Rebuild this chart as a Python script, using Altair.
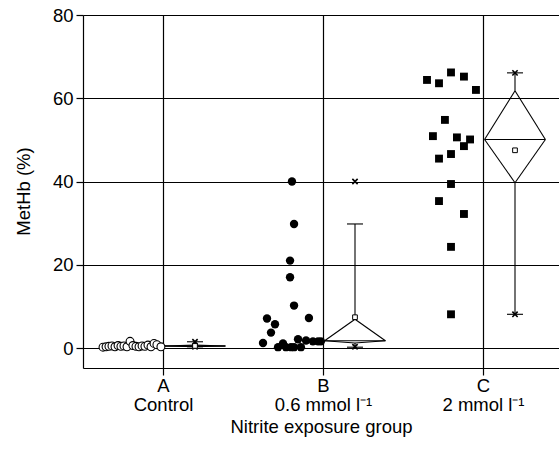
import altair as alt
import pandas as pd

# ---------------- data ----------------
groups = [1, 2, 3]
group_letters = ["A", "B", "C"]
group_names = ["Control", "0.6 mmol l⁻¹", "2 mmol l⁻¹"]

# individual fish (jitter is the horizontal spread in category units)
a_values = [0.2, 0.3, 0.4, 0.5, 0.3, 0.6, 0.4, 0.5, 0.3, 1.6, 0.6, 0.4, 0.3, 0.5, 0.4, 0.7, 0.3, 1.1, 0.8, 0.3]
a_jitter = [-0.375, -0.356, -0.338, -0.319, -0.300, -0.281, -0.263, -0.244, -0.225, -0.206,
            -0.188, -0.169, -0.150, -0.131, -0.113, -0.094, -0.075, -0.056, -0.038, -0.013]

b_values = [40.0, 29.8, 21.0, 17.0, 10.2, 7.1, 7.2, 5.7, 3.7, 1.2, 2.1, 1.8, 1.6, 1.6, 1.6,
            0.2, 1.1, 0.2, 0.2, 0.2, 0.2]
b_jitter = [-0.194, -0.181, -0.206, -0.206, -0.181, -0.350, -0.088, -0.300, -0.325, -0.375,
            -0.156, -0.106, -0.063, -0.031, -0.013, -0.281, -0.250, -0.231, -0.200, -0.181, -0.138]

c_values = [64.4, 63.6, 66.2, 65.2, 62.0, 54.8, 50.9, 50.6, 50.1, 48.5, 46.6, 45.5, 39.4, 35.3, 32.2, 24.3, 8.1]
c_jitter = [-0.350, -0.275, -0.200, -0.119, -0.044, -0.238, -0.313, -0.163, -0.081, -0.119,
            -0.200, -0.275, -0.200, -0.275, -0.119, -0.200, -0.200]

q1 = [0.3, 1.2, 39.7]
median = [0.5, 1.75, 50.1]
q3 = [0.7, 6.9, 61.8]
mean = [0.5, 7.4, 47.5]
whisk_lo = [0.3, 0.2, 8.1]
whisk_hi = [1.5, 29.8, 66.1]
minimum = [0.3, 0.3, 8.1]
maximum = [1.5, 40.0, 66.1]

# ---------------- geometry constants (category units) ----------------
DL, DC, DR = 0.01, 0.20, 0.39   # diamond left / centre / right offsets
CAP = 0.05

FONT = "Liberation Sans"
FS = 18.5

label_expr = " : ".join(
    f"datum.value == {g} ? ['{l}', '{n}']" for g, l, n in zip(groups[:-1], group_letters[:-1], group_names[:-1])
) + f" : ['{group_letters[-1]}', '{group_names[-1]}']"

xscale = alt.Scale(domain=[0.5, 3.475], nice=False, zero=False)
yscale = alt.Scale(domain=[-4.8, 80], nice=False, zero=False)

xaxis = alt.Axis(values=groups, grid=True, gridColor="black", gridWidth=1.2, gridOpacity=1,
                 tickSize=7, tickColor="black", tickWidth=1.2, domainColor="black", domainWidth=1.2,
                 labelExpr=label_expr, labelFontSize=FS, labelLineHeight=19, labelPadding=1,
                 labelColor="black", title="Nitrite exposure group", titleFontSize=FS,
                 titleFontWeight="normal", titleColor="black", titlePadding=4)
yaxis = alt.Axis(values=[0, 20, 40, 60, 80], grid=True, gridColor="black", gridWidth=1.2, gridOpacity=1,
                 tickSize=7, tickColor="black", tickWidth=1.2, domainColor="black", domainWidth=1.2,
                 labelFontSize=FS, labelPadding=3, labelColor="black",
                 title="MetHb (%)", titleFontSize=FS, titleFontWeight="normal", titleColor="black",
                 titleX=-60, titleY=176, titleAngle=-90, titleBaseline="middle", titleAlign="center")


def X(field):
    return alt.X(field, type="quantitative", scale=xscale, axis=xaxis)


def Y(field):
    return alt.Y(field, type="quantitative", scale=yscale, axis=yaxis)


def pts(groupnum, vals, jit):
    return pd.DataFrame({"x": [groupnum + j for j in jit], "v": vals})


dfa = pts(groups[0], a_values, a_jitter)
dfb = pts(groups[1], b_values, b_jitter)
dfc = pts(groups[2], c_values, c_jitter)

# diamond segments and whiskers
seg = []
for i, g in enumerate(groups):
    l, c, r = g + DL, g + DC, g + DR
    seg += [
        dict(x=l, y=median[i], x2=c, y2=q3[i]),
        dict(x=c, y=q3[i], x2=r, y2=median[i]),
        dict(x=r, y=median[i], x2=c, y2=q1[i]),
        dict(x=c, y=q1[i], x2=l, y2=median[i]),
        dict(x=l, y=median[i], x2=r, y2=median[i]),
        dict(x=c, y=q3[i], x2=c, y2=whisk_hi[i]),
        dict(x=c, y=q1[i], x2=c, y2=whisk_lo[i]),
        dict(x=c - CAP, y=whisk_hi[i], x2=c + CAP, y2=whisk_hi[i]),
        dict(x=c - CAP, y=whisk_lo[i], x2=c + CAP, y2=whisk_lo[i]),
    ]
dfseg = pd.DataFrame(seg)

dfext = pd.DataFrame({"x": [g + DC for g in groups] * 2, "v": minimum + maximum})
dfmean = pd.DataFrame({"x": [g + DC for g in groups], "v": mean})

segs = alt.Chart(dfseg).mark_rule(color="black", strokeWidth=1.1).encode(
    x=X("x"), y=Y("y"), x2="x2:Q", y2="y2:Q")

layer_a = alt.Chart(dfa).mark_point(shape="circle", filled=True, fill="white", stroke="black",
                                    strokeWidth=1.1, size=62, opacity=1).encode(x=X("x"), y=Y("v"))
layer_b = alt.Chart(dfb).mark_point(shape="circle", filled=True, color="black", size=70,
                                    opacity=1).encode(x=X("x"), y=Y("v"))
layer_c = alt.Chart(dfc).mark_point(shape="square", filled=True, color="black", size=62,
                                    opacity=1).encode(x=X("x"), y=Y("v"))
layer_ext = alt.Chart(dfext).mark_point(shape="M-1,-1L1,1M-1,1L1,-1", filled=False, color="black",
                                        strokeWidth=1.6, size=28, opacity=1).encode(x=X("x"), y=Y("v"))
layer_mean = alt.Chart(dfmean).mark_point(shape="square", filled=True, fill="white", stroke="black",
                                          strokeWidth=1, size=22, opacity=1).encode(x=X("x"), y=Y("v"))

chart = alt.layer(segs, layer_a, layer_b, layer_c, layer_ext, layer_mean).properties(
    width=476, height=353,
    autosize=alt.AutoSizeParams(type="none"),
    padding={"left": 83, "top": 15, "right": 0, "bottom": 89},
).configure_view(stroke=None).configure(font=FONT, background="white")

chart.save("out.html", embed_options={"renderer": "svg", "actions": False})
